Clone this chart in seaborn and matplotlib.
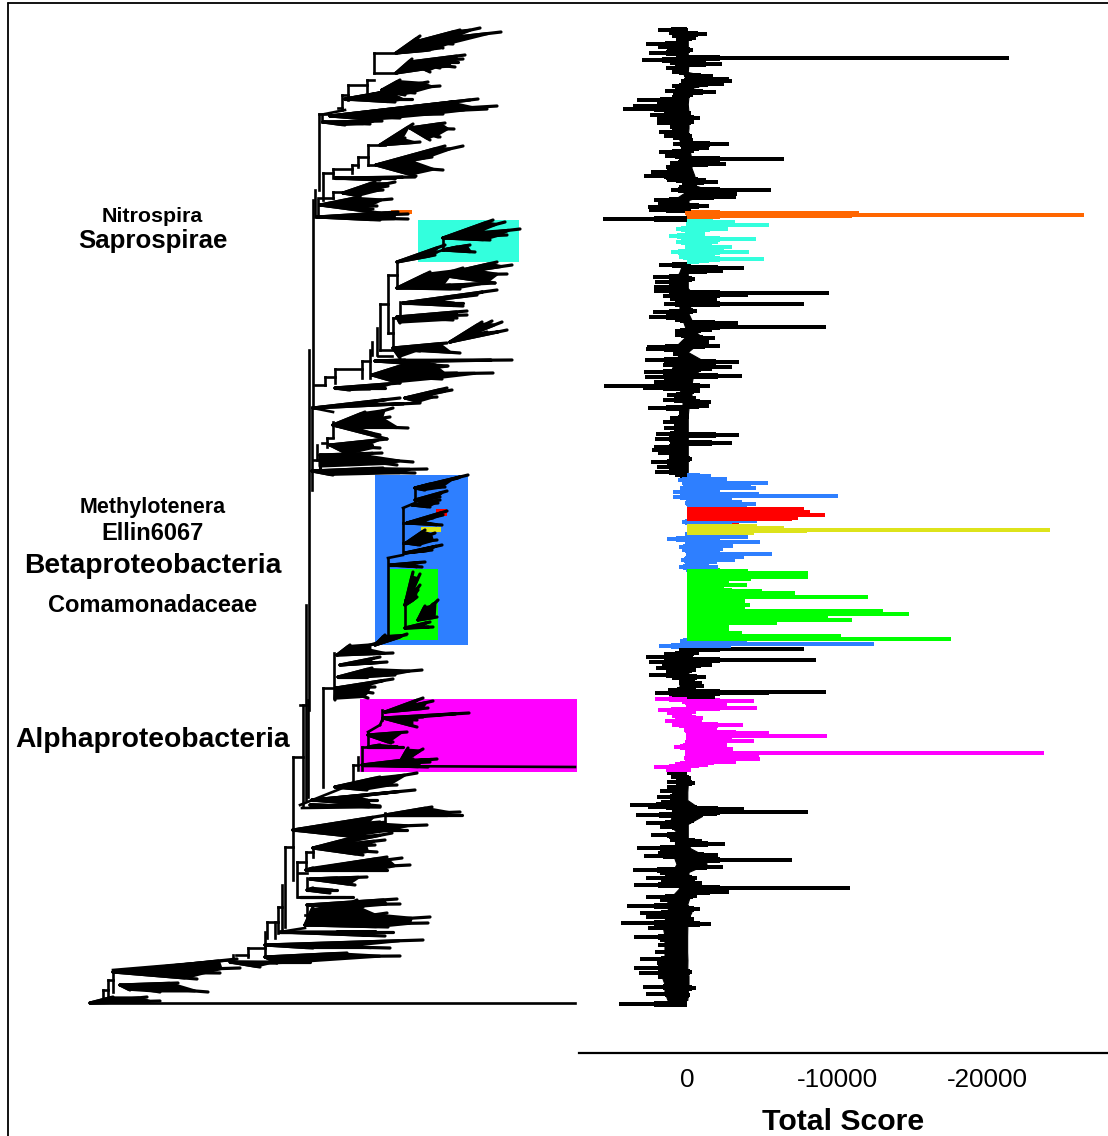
import numpy as np
import pandas as pd
import matplotlib
matplotlib.use("Agg")
import matplotlib.pyplot as plt
from matplotlib.collections import LineCollection
from matplotlib.lines import Line2D
from matplotlib.patches import Rectangle, Polygon
import seaborn as sns

# ---------- data: score bars (y = leaf position, value = total score) ----------
left_spikes = [
 (30,1900),(33,1200),(36,1000),(39,700),(42,700),(44,2700),(47,1900),(49,1300),(53,2500),(55,700),(58,350),(60,3000),
 (63,1100),(68,1400),(72,1000),(75,200),(78,100),(81,400),(86,1000),(88,500),(91,1440),(94,900),(97,1000),(100,3300),
 (103,2000),(106,3570),(109,4240),(112,1500),(115,2460),(118,2000),(120,2020),(123,2000),(127,1100),(132,1840),(136,1500),
 (138,900),(142,300),(144,900),(148,300),(152,1860),(156,1450),(159,500),(163,1100),(167,1400),(169,800),(172,2400),
 (176,2840),(178,1400),(180,1300),(183,300),(187,500),(190,1050),(193,200),(197,200),(200,2180),(203,1900),(207,2620),
 (210,2500),(213,100),(219,5620),
 (229,720),(236,1200),(242,730),(252,1050),(257,500),(265,1860),
 (277,2240),(282,2160),(287,2220),(291,2220),(296,1600),(299,1100),(304,1500),(312,2240),(317,2530),(320,800),(331,800),
 (335,770),(347,2640),(349,2750),(354,900),(360,2800),(365,1600),(372,2880),(377,2800),(382,2200),(386,5500),(388,2900),
 (395,1300),(400,1600),(408,2570),(413,500),(418,1100),(422,1630),(428,1530),(434,2070),(439,2130),(443,1150),(447,2230),
 (450,2350),(453,1900),(457,1200),(462,2400),(467,2000),(472,2130),(475,800),
 (480,600),(483,300),(488,450),(492,900),(497,900),(503,100),(522,300),(539,1300),(547,500),(550,300),(560,400),(567,500),(641,450),
 (646,1880),(650,500),(654,1500),(657,2740),(662,2530),(664,1660),(668,2060),(671,1400),(675,2500),(678,1000),(683,500),
 (690,1260),(693,2160),(696,1000),(699,2150),
 (702,300),(710,1960),(713,1300),(716,1000),(721,1450),(725,1000),(730,200),(745,250),(747,850),(758,200),(764,800),(767,2200),(770,1400),
 (773,1350),(777,1050),(782,1300),(787,1300),(791,1800),(797,2000),(802,1750),(805,3800),(807,2600),(815,3420),(821,1000),
 (823,2700),(827,1800),(835,2400),(837,1200),(840,1100),(848,3300),(853,1900),(856,2850),(860,200),(870,3600),(873,1800),
 (878,2700),(882,1700),(885,3500),(890,300),(897,2700),(900,1800),(906,4000),(908,1000),(913,3100),(917,2700),(923,4400),
 (928,2600),(937,3500),(940,1800),(945,1900),(952,2100),(959,3100),(963,2000),(968,3550),(973,3200),(977,1900),(987,2900),
 (994,2700),(998,900),(1004,4500),
]
right_spikes = [
 (30,-50),(34,-1350),(38,-600),(44,-100),(50,-380),(55,-100),(58,-21500),(61,-1100),(64,-2350),(68,-150),(72,-100),(76,-1750),
 (79,-2800),(81,-3000),(84,-2500),(86,-800),(92,-1930),(95,-400),(108,-100),(113,-300),(118,-870),(122,-500),(127,-100),(136,-350),
 (140,-400),(144,-2780),(148,-1490),(151,-500),(159,-6460),(163,-800),(164,-2600),(167,-300),(180,-1300),(182,-2090),(185,-700),
 (190,-5570),(194,-3350),(197,-3260),(200,-100),(206,-1490),(209,-300),
 (213,-11500),(215,-26500),(216,-11000),
 (222,-3200),(225,-5500),(229,-2750),(234,-1200),(239,-4600),(242,-2100),(247,-3000),(250,-2500),(252,-4160),(255,-1900),(259,-5150),(261,-1500),
 (268,-3800),(271,-2400),(279,-560),(293,-9500),(295,-4050),(300,-2000),(304,-7800),(311,-700),(323,-3400),(327,-9300),(330,-1700),
 (338,-1900),(342,-1500),(346,-2200),(357,-400),(362,-3500),(367,-3000),(369,-1700),(376,-3700),(386,-1560),(391,-900),(398,-600),
 (402,-1600),(406,-1500),(417,-150),(435,-3500),(443,-3000),(459,-350),
 (476,-1600),(479,-2650),(483,-5400),(486,-4300),(488,-4600),(492,-2100),(494,-4800),(496,-10100),(498,-3000),(502,-3650),(504,-4600),(507,-4000),
 (509,-7800),(511,-7800),(512,-8200),(513,-7800),(515,-9200),(517,-7400),(519,-7000),(518,-7400),(521,-4700),(523,-3000),
 (526,-4700),(528,-6500),(530,-24200),(531,-8000),(533,-4500),
 (535,-2700),(537,-4100),(542,-4900),(546,-3100),(549,-2400),(554,-5650),(557,-3800),(560,-3200),(563,-500),(567,-2100),
 (571,-4100),(573,-8100),(577,-8100),(579,-4300),(583,-2800),(585,-4000),(588,-2400),(591,-5000),(593,-7200),(597,-12100),
 (601,-3900),(605,-4200),(607,-3900),(611,-13100),(614,-14800),(617,-9400),(620,-11000),(623,-6000),(626,-2800),(630,-2800),
 (633,-3700),(636,-10300),(639,-17600),(641,-4000),(644,-12500),
 (646,-2950),(649,-7800),(653,-800),(657,-400),(660,-8600),(665,-1650),(670,-600),(677,-1250),(683,-1000),(686,-1150),(692,-9250),(693,-5500),(697,-1850),
 (701,-4500),(704,-2650),(708,-4700),(712,-600),(718,-1100),(722,-1000),(725,-3750),(728,-2000),(732,-3300),(733,-5500),(736,-9350),
 (738,-3000),(741,-4500),(745,-2700),(749,-3100),(753,-23800),(755,-4800),(759,-4850),(762,-3300),(765,-1400),
 (778,-300),(783,-550),(807,-700),(809,-3800),(812,-8100),(814,-2000),(819,-600),(821,-500),(841,-1000),(844,-2550),(855,-2100),
 (860,-7000),(863,-1000),(867,-2400),(878,-650),(883,-1000),(888,-10900),(892,-2800),(896,-700),(909,-900),(919,-450),(923,-400),
 (924,-1600),(972,-350),(988,-600),(995,-200),
]
# dense core of the bars, one value per 8 leaf positions starting at 32
core_left = [
 300,200,300,250,500,300,50,300,600,900,
 1000,1000,800,600,400,400,500,600,800,100,
 100,900,900,50,50,100,100,100,100,300,
 500,800,800,500,500,500,300,100,50,600,
 500,700,1000,1000,800,400,300,300,200,400,
 400,500,700,700,700,600,100,150,100,20,
 0,20,0,100,100,50,100,50,10,10,
 10,10,10,10,10,10,10,300,600,800,
 800,500,500,600,50,50,50,50,50,100,
 100,100,300,300,500,800,800,1000,1000,1200,
 700,800,800,900,700,1000,1200,500,1000,1400,
 1200,1500,1600,1500,1500,1500,1500,1700,1700,1500,
 1500,1300,
]
core_right = [
 -50,-50,-50,-50,-100,-50,-2500,-300,-100,-50,
 -100,-100,-100,-50,-100,-200,-300,-300,-500,-300,
 -1800,-100,-100,-100,-2000,-1000,-1300,-1700,-1500,-200,
 -50,-50,-50,-500,-300,-50,-300,-300,-900,-700,
 -50,-1000,-1000,-400,-300,-300,-300,-100,-50,-50,
 -50,-50,-50,-50,-50,-50,-1000,-1800,-1500,-2800,
 -7200,-3500,-4000,-1500,-1800,-1800,-2000,-1500,-4000,-2500,
 -3000,-2500,-2500,-3500,-2300,-2500,-3000,-1000,-100,-100,
 -100,-50,-50,-100,-1500,-300,-200,-1500,-2200,-2000,
 -2000,-1500,-300,-100,-50,-20,-20,-800,-1000,-50,
 -50,-50,-200,-1200,-1300,-100,-100,-1500,-200,-20,
 -300,-20,-20,-10,-10,-10,-30,-20,-100,-100,
 -50,-20,
]
taxon_names = ["orange", "cyan", "red", "yellow", "green", "blue", "magenta"]
taxon_first = [212, 220, 508, 525, 569, 476, 699]
taxon_last = [217, 263, 520, 534, 640, 646, 772]
taxon_colors = {"black": "#000000", "orange": "#FF6600", "cyan": "#33FFDD", "red": "#FF0000",
                "yellow": "#DDE31B", "green": "#00FF00", "blue": "#2E7FFF", "magenta": "#FF00FF"}

# ---------- data: highlighted clade boxes on the tree ----------
box_names = ["blue", "cyan", "magenta", "green", "orange", "red", "yellow"]
box_x0 = [375, 418, 360, 389, 391, 436, 421]
box_x1 = [468, 519, 577, 438, 412, 447, 441]
box_y0 = [475, 220, 699, 569, 210, 509, 527]
box_y1 = [645, 262, 772, 640, 214, 516, 532]

# ---------- data: tree backbone branches (depth, leaf, depth, leaf) ----------
branches = [
 (319,114,319,190),(315,190,315,217),(313,200,313,407),(312,407,312,490),(309,350,309,710),(306,605,306,800),(308,700,308,797),
 (303,705,303,807),(300,705,306,705),(293,757,293,880),(293,757,303,757),(323,688,323,787),(323,688,333,688),(334,653,334,698),
 (285,847,285,927),(285,847,293,847),(282,885,282,930),(278,907,278,933),(278,907,282,907),(267,922,278,922),(267,922,267,938),
 (275,922,275,938),(265,932,265,957),(248,948,265,948),(248,948,248,957),(236,955,248,955),(233,955,233,962),(113,970,233,960),
 (113,970,113,992),(108,980,108,997),(103,990,103,1001),(108,980,113,980),(103,990,108,990),
 (374,53,396,53),(374,53,374,73),(374,73,396,73),(367,80,374,80),(367,80,367,92),(348,85,367,85),(348,85,348,100),(342,95,348,95),
 (342,95,342,110),(338,108,342,108),(325,114,345,110),(319,114,330,114),(322,114,322,122),
 (368,145,385,145),(368,145,368,165),(368,165,376,165),(358,157,368,157),(358,157,358,167),(352,165,358,165),(352,165,352,173),
 (333,169,352,169),(333,169,333,178),(323,173,333,173),(323,173,323,200),(333,192,343,192),(333,192,333,198),(318,200,318,217),(318,198,333,198),
 (397,262,397,287),(388,275,397,275),(388,275,388,333),(380,304,388,304),(380,304,380,350),(400,302,400,320),(393,318,393,347),(393,318,400,318),
 (377,328,377,355),(372,342,372,355),(370,350,370,378),(362,361,370,361),(362,361,362,378),(335,369,362,369),(335,369,335,383),
 (325,377,335,377),(325,377,325,385),(315,385,325,385),(388,333,393,333),(380,350,393,350),(378,356,392,356),
 (443,238,443,250),(437,252,443,250),
 (333,422,333,437),(327,438,327,447),(322,443,327,443),(317,445,317,460),(313,460,320,460),(327,438,333,438),(313,408,333,412),
 (415,487,415,503),(403,508,403,553),(403,508,415,503),(388,558,403,555),(388,558,388,640),(403,523,407,523),(403,543,406,543),
 (405,600,405,628),(383,637,406,635),(377,643,390,640),
 (382,710,382,720),(380,725,383,718),(368,732,380,725),(368,732,368,747),(362,747,368,747),(362,747,362,770),(358,757,358,770),
 (353,765,358,765),(353,765,353,787),(343,787,353,787),(300,805,345,787),(302,808,380,807),(385,813,385,825),(293,830,385,822),
 (313,848,313,857),(306,852,313,852),(306,852,306,870),(297,862,306,862),(297,862,297,897),(298,873,307,873),(307,878,307,890),
 (307,905,307,925),(298,897,307,897),(305,915,307,915),(280,932,305,928),
 (90,1003,575,1003),(365,766,575,767),
]

# ---------- data: clades, one root and its leaf tips (depth, leaf) ----------
clade_roots = [
 (396,53),(415,42),(396,73),(410,62),(382,90),(345,99),(330,116),(323,122),(380,145),(410,128),(376,165),(335,178),(343,193),
 (320,205),(317,217),(397,262),(443,238),(443,250),(397,288),(440,275),(403,303),(397,317),(393,348),(450,342),(375,361),(372,375),
 (335,388),(313,408),(405,398),(333,425),(330,445),(320,455),(312,471),
 (415,488),(415,500),(412,505),(407,523),(406,543),(405,553),(390,565),(405,605),(405,628),(418,620),(375,645),(337,655),(340,665),
 (338,677),(336,688),(385,712),(383,718),(368,735),(368,747),(400,762),(362,765),(335,787),(312,800),(310,805),(293,830),(385,815),
 (313,848),(306,870),(310,879),(307,890),(300,897),(307,905),(305,925),(280,932),(265,945),(265,957),(230,962),(113,972),(120,985),(90,1003),
]
clade_tips = [
 [(420,36),(430,50),(440,48)],
 [(501,32),(480,28),(460,30),(457,37),(453,44),(443,48)],
 [(412,59),(425,65),(430,68)],
 [(465,55),(463,59),(458,62),(455,67),(440,68),(430,72)],
 [(400,80),(428,82),(440,86),(415,93),(405,95)],
 [(412,99),(400,93),(390,91),(375,94),(395,102)],
 [(497,106),(478,99),(470,100),(487,109),(443,114),(400,118),(380,120)],
 [(382,121),(370,124),(345,125)],
 [(413,124),(420,142),(405,138)],
 [(445,123),(454,129),(438,137),(430,140),(440,137)],
 [(463,146),(445,146),(432,157),(415,160),(443,170),(416,176)],
 [(415,177),(395,178),(380,180)],
 [(395,182),(388,186),(383,190),(375,182),(360,196)],
 [(392,199),(377,206),(373,209),(360,197),(380,213)],
 [(408,214),(408,219),(380,220),(398,212)],
 [(437,252),(445,245),(435,255)],
 [(493,220),(505,222),(520,229),(507,235),(490,240),(480,232)],
 [(475,252),(457,247),(470,245)],
 [(430,272),(463,268),(450,285),(460,289),(495,283)],
 [(512,265),(497,262),(507,274),(495,283),(480,270)],
 [(497,290),(477,295),(463,303),(463,306),(437,300)],
 [(467,311),(467,315),(457,318),(453,320),(400,323)],
 [(447,343),(460,353),(420,351),(400,358)],
 [(482,322),(492,321),(502,322),(507,330),(487,332),(470,335)],
 [(512,360),(447,366),(415,362),(405,360)],
 [(493,373),(457,373),(448,366),(442,379),(413,362),(400,383)],
 [(400,383),(385,388),(370,389),(350,390)],
 [(400,398),(420,403),(360,404)],
 [(452,390),(447,388),(437,397),(420,402),(430,395)],
 [(393,408),(390,417),(365,412),(408,428),(387,439),(380,435),(355,428)],
 [(387,439),(380,448),(372,445),(350,455)],
 [(413,462),(397,465),(382,453),(367,455),(320,468)],
 [(427,469),(415,473),(383,468),(333,475)],
 [(468,475),(458,478),(445,487),(430,484),(425,490)],
 [(447,491),(440,497),(428,500)],
 [(440,500),(438,503),(430,507)],
 [(447,511),(443,515),(442,525),(433,518),(423,522)],
 [(435,533),(437,540),(425,530),(420,545)],
 [(442,545),(432,550),(413,552)],
 [(425,562),(422,567),(403,565)],
 [(413,572),(420,574),(420,585),(418,590),(417,597),(413,600),(412,593)],
 [(420,627),(433,627),(430,622)],
 [(438,600),(433,604),(425,606),(437,617)],
 [(407,634),(385,635),(400,637)],
 [(377,643),(393,653),(370,648),(350,645)],
 [(387,662),(380,657),(365,663)],
 [(422,670),(372,668),(395,675),(367,677)],
 [(393,679),(370,685),(375,687),(373,693),(368,698),(335,700)],
 [(423,698),(433,701),(428,708),(413,705)],
 [(469,713),(423,717),(417,727),(417,720)],
 [(407,732),(393,742),(391,743)],
 [(403,747),(380,745)],
 [(408,748),(423,749),(437,759),(407,760)],
 [(428,767),(430,762),(413,759)],
 [(380,777),(417,773),(397,785),(367,790)],
 [(415,790),(387,793),(377,800),(380,806),(360,797)],
 [(380,807),(350,806)],
 [(427,825),(380,822),(407,830),(358,837),(387,815)],
 [(432,807),(460,812),(462,815),(447,815)],
 [(363,835),(392,833),(385,840),(375,845),(377,852),(363,855),(320,847)],
 [(387,857),(410,865),(402,858),(387,870),(313,868)],
 [(367,877),(355,885),(337,878)],
 [(337,890),(330,893),(313,888)],
 [(353,897),(300,897)],
 [(397,899),(400,904),(363,907)],
 [(430,917),(428,923),(387,913),(388,927),(357,900),(313,907)],
 [(393,932),(385,936),(347,932)],
 [(423,940),(390,948),(350,947),(313,948)],
 [(400,956),(347,953),(310,962),(277,963)],
 [(310,962),(277,963),(260,967)],
 [(237,959),(240,968),(220,973),(197,979)],
 [(178,983),(208,992),(160,992),(130,990)],
 [(160,1001),(147,997),(113,997)],
]

# ---------- data: text ----------
tree_labels = ["Nitrospira", "Saprospirae", "Methylotenera", "Ellin6067", "Betaproteobacteria", "Comamonadaceae", "Alphaproteobacteria"]
label_y = [216, 241, 508, 534, 566, 606, 740]
label_size = [15.4, 18.6, 15.5, 17, 20.3, 17, 20.3]
score_ticks = [0, -10000, -20000]
score_tick_labels = ["0", "-10000", "-20000"]

# ---------- helpers ----------
def taxon_of(y):
    for name, a, b in zip(taxon_names, taxon_first, taxon_last):
        if a <= y <= b:
            return name
    return "black"

def frame(rows):
    df = pd.DataFrame(rows, columns=["leaf", "score"])
    df["taxon"] = df["leaf"].map(taxon_of)
    return df

def draw_bars(ax, df, thick, estimator):
    step = np.diff(np.unique(df["leaf"])).min()
    sns.barplot(data=df, x="score", y="leaf", hue="taxon", palette=taxon_colors, orient="y", native_scale=True,
                dodge=False, width=thick / step, estimator=estimator, errorbar=None, saturation=1,
                linewidth=0, legend=False, ax=ax)

def shoulders(df):
    out = df.copy()
    out["score"] = np.sign(df["score"]) * np.minimum(df["score"].abs() * 0.55, 2200)
    return out

# ---------- figure ----------
sns.set_theme(style="white")
plt.rcParams["font.family"] = ["Liberation Sans", "DejaVu Sans"]
plt.rcParams["axes.unicode_minus"] = False
W, H = 1108, 1136
fig = plt.figure(figsize=(W / 100, H / 100), dpi=100, facecolor="white")

# tree panel
tree = fig.add_axes([0, 0, 1, 1])
tree.set_xlim(0, W)
tree.set_ylim(H, 0)
tree.axis("off")
for name, x0, x1, y0, y1 in zip(box_names, box_x0, box_x1, box_y0, box_y1):
    tree.add_patch(Rectangle((x0, y0), x1 - x0, y1 - y0, facecolor=taxon_colors[name], edgecolor="none", zorder=1))
tree.add_collection(LineCollection([[(a, b), (c, d)] for a, b, c, d in branches], colors="black",
                                   linewidths=1.9, capstyle="projecting", zorder=3))
for root, tips in zip(clade_roots, clade_tips):
    pts = np.array(tips, dtype=float)
    order = np.argsort(np.arctan2(pts[:, 1] - root[1], pts[:, 0] - root[0]))
    inner = np.array(root) + 0.85 * (pts[order] - np.array(root))
    tree.add_patch(Polygon(np.vstack([root, inner]), closed=True, facecolor="black", edgecolor="black", lw=2.2,
                           joinstyle="round", zorder=3))
    tree.add_collection(LineCollection([[root, tuple(t)] for t in tips], colors="black", linewidths=2.3,
                                       capstyle="round", zorder=3))
for text, y, size in zip(tree_labels, label_y, label_size):
    tree.text(152.5, y, text, ha="center", va="center", fontsize=size, fontweight="bold", color="black", zorder=4)

# score panel
ax = fig.add_axes([579 / W, 1 - 1053 / H, 529 / W, 1053 / H])
ax.patch.set_alpha(0)
core_leaf = np.arange(len(core_left)) * 8 + 32
core_l = frame(list(zip(core_leaf, core_left)))
core_r = frame(list(zip(core_leaf, core_right)))

# black core as a jagged envelope, one run between coloured clades
is_black = (core_l["taxon"] == "black").to_numpy()
starts = np.flatnonzero(np.diff(np.r_[0, is_black.astype(int)]) == 1)
ends = np.flatnonzero(np.diff(np.r_[is_black.astype(int), 0]) == -1)
for a, b in zip(starts, ends):
    ax.fill_betweenx(core_l["leaf"][a:b + 1], core_l["score"][a:b + 1], core_r["score"][a:b + 1],
                     color="black", lw=0.8, zorder=1)

draw_bars(ax, core_l[~is_black], 8.2, "max")
draw_bars(ax, core_r[~is_black], 8.2, "min")
left_df = frame(left_spikes)
right_df = frame(right_spikes)
draw_bars(ax, shoulders(left_df), 5.5, "max")
draw_bars(ax, shoulders(right_df), 5.5, "min")
draw_bars(ax, left_df, 3.2, "max")
draw_bars(ax, right_df, 3.2, "min")
ax.set_ylim(1053, 0)
ax.set_xlim(7200, -28067)
ax.set_xticks(score_ticks)
ax.set_xticklabels(score_tick_labels)
ax.set_yticks([])
ax.set_ylabel("")
ax.set_xlabel("Total Score", fontsize=21.8, fontweight="bold", color="black", labelpad=11)
ax.tick_params(axis="x", length=0, pad=11, labelsize=18.7, labelcolor="black")
for side in ("left", "right", "top"):
    ax.spines[side].set_visible(False)
ax.spines["bottom"].set_color("black")
ax.spines["bottom"].set_linewidth(1.6)

# outer frame
fig.add_artist(Line2D([8 / W, 8 / W], [0, 1 - 3 / H], color="black", lw=1.3))
fig.add_artist(Line2D([8 / W, 1], [1 - 3 / H, 1 - 3 / H], color="black", lw=1.3))

fig.savefig("out.png", dpi=100)
